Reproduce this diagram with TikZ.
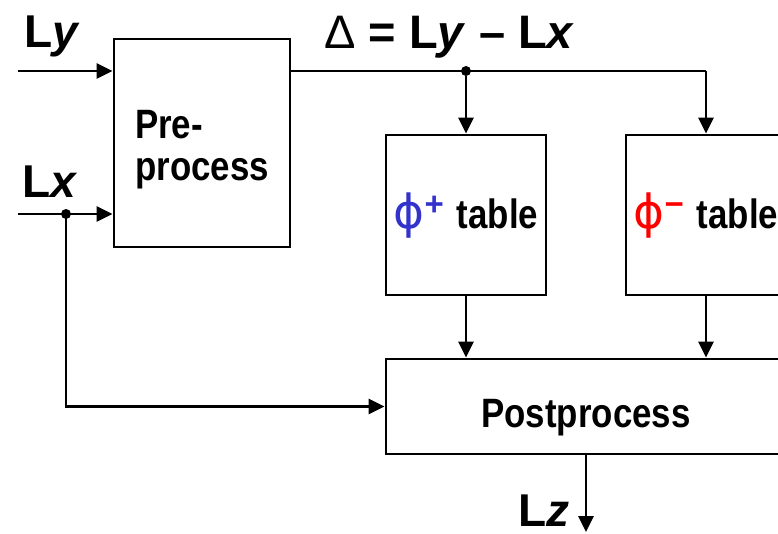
\documentclass[tikz,border=0pt]{standalone}
\usepackage{fontspec}
\setmainfont{Liberation Sans}
\newfontfamily\narrowfont{Liberation Sans}[FakeStretch=0.85]
\newfontfamily\plainsans{Liberation Sans}
\newfontfamily\symfont{DejaVu Sans}
\usepackage{xcolor}
\usetikzlibrary{
    arrows.meta,
    calc,
    positioning
}
\definecolor{phiblue}{RGB}{51,51,204}
\definecolor{phired}{RGB}{255,0,0}

\tikzset{
    block/.style={draw, line width=2.8pt, inner sep=0pt, align=left,
        font=\narrowfont\bfseries\fontsize{41}{42}\selectfont},
    flow/.style={line width=2.8pt, -{Triangle[length=16pt, width=15pt]}},
    wire/.style={line width=2.8pt},
    tap/.style={circle, fill, inner sep=0pt, minimum size=10pt},
    sig/.style={anchor=base west, inner sep=0pt, font=\bfseries\fontsize{46}{50}\selectfont}
}
\newcommand{\phisign}[2]{{\color{#1}{\symfont\mdseries\fontsize{47}{47}\selectfont ϕ}\raisebox{13pt}{\plainsans\bfseries\fontsize{33}{33}\selectfont #2}}}

\begin{document}
\begin{tikzpicture}[x=1pt, y=-1pt]
                                \useasboundingbox (0, 0) rectangle (778, 533);
                                \clip (0, 0) rectangle (778, 533);
                                % blocks
                                \node[block, minimum width=176pt, minimum height=208pt] (pre) at (202, 143) {\rule{0pt}{41pt}Pre-\\process};
                                \node[block, minimum width=160pt, minimum height=160pt, text height=26pt, text depth=0pt] (tplus) at (466, 215) {\phisign{phiblue}{+}\hspace{13pt}table};
                                \node[block, minimum width=160pt, minimum height=160pt, text height=26pt, text depth=0pt] (tminus) at (706, 215) {\phisign{phired}{−}\hspace{13pt}table};
                                \node[block, minimum width=400pt, minimum height=95pt, text height=41pt, text depth=0pt] (post) at (586, 406.5) {Postprocess};
                                % inputs and output
                                \coordinate (yin) at (18, 71);
                                \coordinate (xin) at (18, 214);
                                \coordinate (zout) at (586, 532);
                                \node[tap] (xtap) at (66, 214) {};
                                \node[tap] (dtap) at (tplus.north |- yin) {};
                                % labels
                                \node[sig] (ly) at (24, 47) {L\textit{y}};
                                \node[sig] (lx) at (22, 197) {L\textit{x}};
                                \node[sig] (lz) at (518, 526) {L\textit{z}};
                                \node[sig, font=\bfseries\fontsize{47}{50}\selectfont] (delta) at (324, 48) {{\mdseries Δ} = L\textit{y} – L\textit{x}};
                                \draw
                                (yin) edge[flow] (yin -| pre.west)
                                (xin) edge[flow] (xin -| pre.west)
                                (dtap) edge[flow] (tplus.north)
                                (tplus.south) edge[flow] (tplus.south |- post.north)
                                (tminus.south) edge[flow] (tminus.south |- post.north)
                                (post.south) edge[flow] (zout);
                                \draw[wire] (pre.east |- yin) -- (tminus.north |- yin);
                                \draw[flow] (tminus.north |- yin) -- (tminus.north);
                                \draw[flow] (xtap.center) |- (post.west);
                            \end{tikzpicture}
\end{document}
